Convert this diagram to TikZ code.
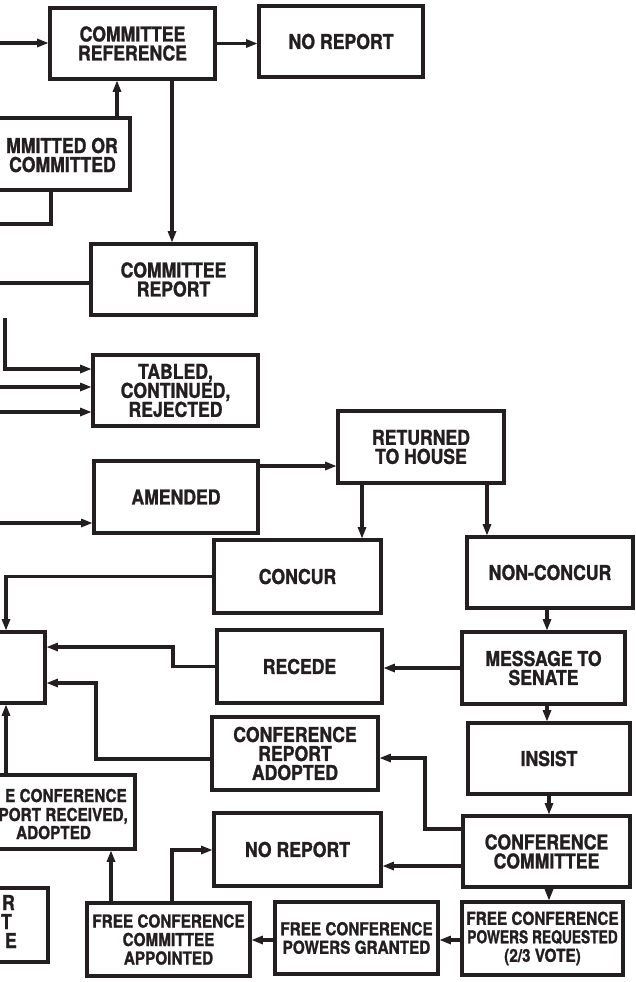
\documentclass[tikz,border=0pt]{standalone}
\usepackage{fontspec}
\usepackage{graphicx}
\usetikzlibrary{arrows.meta}
\newfontfamily\herosc{TeX Gyre Heros}[FakeStretch=0.86, FakeBold=1.2]
\definecolor{ink}{RGB}{35,31,32}
\newcommand{\fbig}{\herosc\bfseries\fontsize{20.5}{19}\selectfont}
\newcommand{\fsmall}{\herosc\bfseries\fontsize{17.8}{18.5}\selectfont}
\tikzset{
  box/.style={draw=ink, line width=3.8pt, fill=white, inner sep=0pt, align=center, text=ink, font=\fbig},
  sbox/.style={box, font=\fsmall},
  txt/.style={inner sep=0pt, text=ink, font=\fbig},
  stxt/.style={inner sep=0pt, text=ink, font=\fsmall},
  ln/.style={draw=ink, line width=3.4pt},
  arr/.style={ln, -{Triangle[length=11pt,width=9pt,line width=0pt]}},
}
\begin{document}
\begin{tikzpicture}[x=1pt,y=-1pt]
\useasboundingbox (0,0) rectangle (636,982);
\clip (0,0) rectangle (636,982);
% boxes
\node[box, minimum width=165pt, minimum height=71pt] (CR) at (132.5,43.5) {COMMITTEE\\REFERENCE};
\node[box, minimum width=164pt, minimum height=71pt] (NR1) at (341,41.5) {NO REPORT};
\node[box, minimum width=170pt, minimum height=72pt] (RC) at (45,154) {};
\node[txt, anchor=base east] (RCa) at (118,153) {MMITTED OR};
\node[txt, anchor=base east] (RCb) at (116,172) {COMMITTED};
\node[box, minimum width=165pt, minimum height=71pt] (CRep) at (173.5,279.5) {COMMITTEE\\REPORT};
\node[box, minimum width=165pt, minimum height=71pt] (TCR) at (175.5,390.5) {TABLED,\\CONTINUED,\\REJECTED};
\node[box, minimum width=164pt, minimum height=72pt] (AM) at (176,497) {AMENDED};
\node[box, minimum width=166pt, minimum height=72pt] (RTH) at (421,447) {RETURNED\\TO HOUSE};
\node[box, minimum width=167pt, minimum height=73pt] (CON) at (297.5,576.5) {CONCUR};
\node[box, minimum width=166pt, minimum height=71pt] (NC) at (550,572.5) {NON-CONCUR};
\node[box, minimum width=163pt, minimum height=72pt] (MS) at (543.5,668) {MESSAGE TO\\SENATE};
\node[box, minimum width=165pt, minimum height=73pt] (REC) at (299.5,666.5) {RECEDE};
\node[box, minimum width=105pt, minimum height=71pt] (LB) at (-7.5,667.5) {};
\node[box, minimum width=162pt, minimum height=71pt] (INS) at (549,758.5) {INSIST};
\node[box, minimum width=166pt, minimum height=73pt] (CRA) at (295,753.5) {CONFERENCE\\REPORT\\ADOPTED};
\node[box, minimum width=167pt, minimum height=71pt] (CC) at (546.5,851.5) {CONFERENCE\\COMMITTEE};
\node[box, minimum width=167pt, minimum height=73pt] (NR2) at (297.5,849.5) {NO REPORT};
\node[box, minimum width=164pt, minimum height=74pt] (FRRA) at (53,812) {};
\node[stxt, anchor=base east] (FRa) at (127,802) {E CONFERENCE};
\node[stxt, anchor=base east] (FRb) at (128,821) {PORT RECEIVED,};
\node[stxt, anchor=base] (FRc) at (53.5,839) {ADOPTED};
\node[box, minimum width=176pt, minimum height=74pt] (BL) at (-40,925) {};
\node[txt, anchor=base east] (BLa) at (15,910) {R};
\node[txt, anchor=base east] (BLb) at (12,929) {T};
\node[txt, anchor=base east] (BLc) at (17,948) {E};
\node[sbox, minimum width=163pt, minimum height=73pt] (FCCA) at (168.5,939.5) {FREE CONFERENCE\\COMMITTEE\\APPOINTED};
\node[sbox, minimum width=163pt, minimum height=72pt] (FCPG) at (356.5,938) {FREE CONFERENCE\\POWERS GRANTED};
\node[sbox, minimum width=161pt, minimum height=73pt] (FCPR) at (542.5,938.5) {FREE CONFERENCE\\\scalebox{0.9}[1]{POWERS REQUESTED}\\(2/3 VOTE)};
% helper coordinates
\coordinate (a0) at (0,43);
\coordinate (x117) at (117,0);
\coordinate (x51) at (51,0);
\coordinate (o1) at (0,224);
\coordinate (x172) at (172,0);
\coordinate (o2) at (0,283);
\coordinate (s1) at (5,318);
\coordinate (s1b) at (5,369);
\coordinate (o3) at (0,387);
\coordinate (o4) at (0,412);
\coordinate (o5) at (0,523);
\coordinate (y466) at (0,466);
\coordinate (x362) at (362,0);
\coordinate (x487) at (487,0);
\coordinate (x6) at (6,0);
\coordinate (x547) at (547,0);
\coordinate (x549) at (549,0);
\coordinate (x173) at (173,0);
\coordinate (y647) at (0,647);
\coordinate (y759) at (0,759);
\coordinate (x96) at (96,0);
\coordinate (y683) at (0,683);
\coordinate (y829) at (0,829);
\coordinate (x425) at (425,0);
\coordinate (y758) at (0,758);
\coordinate (y866) at (0,866);
\coordinate (y850) at (0,850);
\coordinate (x111) at (111,0);
\coordinate (y940) at (0,940);
% connectors
\draw[arr] (a0) -- (CR.west |- a0);
\draw[arr] (CR.east) -- (CR.east -| NR1.west);
\draw[arr] (x117 |- RC.north) -- (x117 |- CR.south);
\draw[ln] (x51 |- RC.south) |- (o1);
\draw[arr] (x172 |- CR.south) -- (x172 |- CRep.north);
\draw[ln] (o2) -- (o2 -| CRep.west);
\draw[arr] (s1) -- (s1b) -- (s1b -| TCR.west);
\draw[arr] (o3) -- (o3 -| TCR.west);
\draw[arr] (o4) -- (o4 -| TCR.west);
\draw[arr] (o5) -- (o5 -| AM.west);
\draw[arr] (AM.east |- y466) -- (RTH.west |- y466);
\draw[arr] (x362 |- RTH.south) -- (x362 |- CON.north);
\draw[arr] (x487 |- RTH.south) -- (x487 |- NC.north);
\draw[arr] (CON.west) -| (x6 |- LB.north);
\draw[arr] (x547 |- NC.south) -- (x547 |- MS.north);
\draw[arr] (MS.west) -- (MS.west -| REC.east);
\draw[arr] (REC.west) -| (x173 |- y647) -- (LB.east |- y647);
\draw[arr] (CRA.west |- y759) -| (x96 |- y683) -- (LB.east |- y683);
\draw[arr] (CC.west |- y829) -| (x425 |- y758) -- (CRA.east |- y758);
\draw[arr] (CC.west |- y866) -- (NR2.east |- y866);
\draw[arr] (x172 |- FCCA.north) |- (NR2.west |- y850);
\draw[arr] (x111 |- FCCA.north) -- (x111 |- FRRA.south);
\draw[arr] (x6 |- FRRA.north) -- (x6 |- LB.south);
\draw[arr] (x547 |- MS.south) -- (x547 |- INS.north);
\draw[arr] (x549 |- INS.south) -- (x549 |- CC.north);
\draw[arr] (x549 |- CC.south) -- (x549 |- FCPR.north);
\draw[arr] (FCPR.west |- y940) -- (FCPG.east |- y940);
\draw[arr] (FCPG.west |- y940) -- (FCCA.east |- y940);
\end{tikzpicture}
\end{document}
